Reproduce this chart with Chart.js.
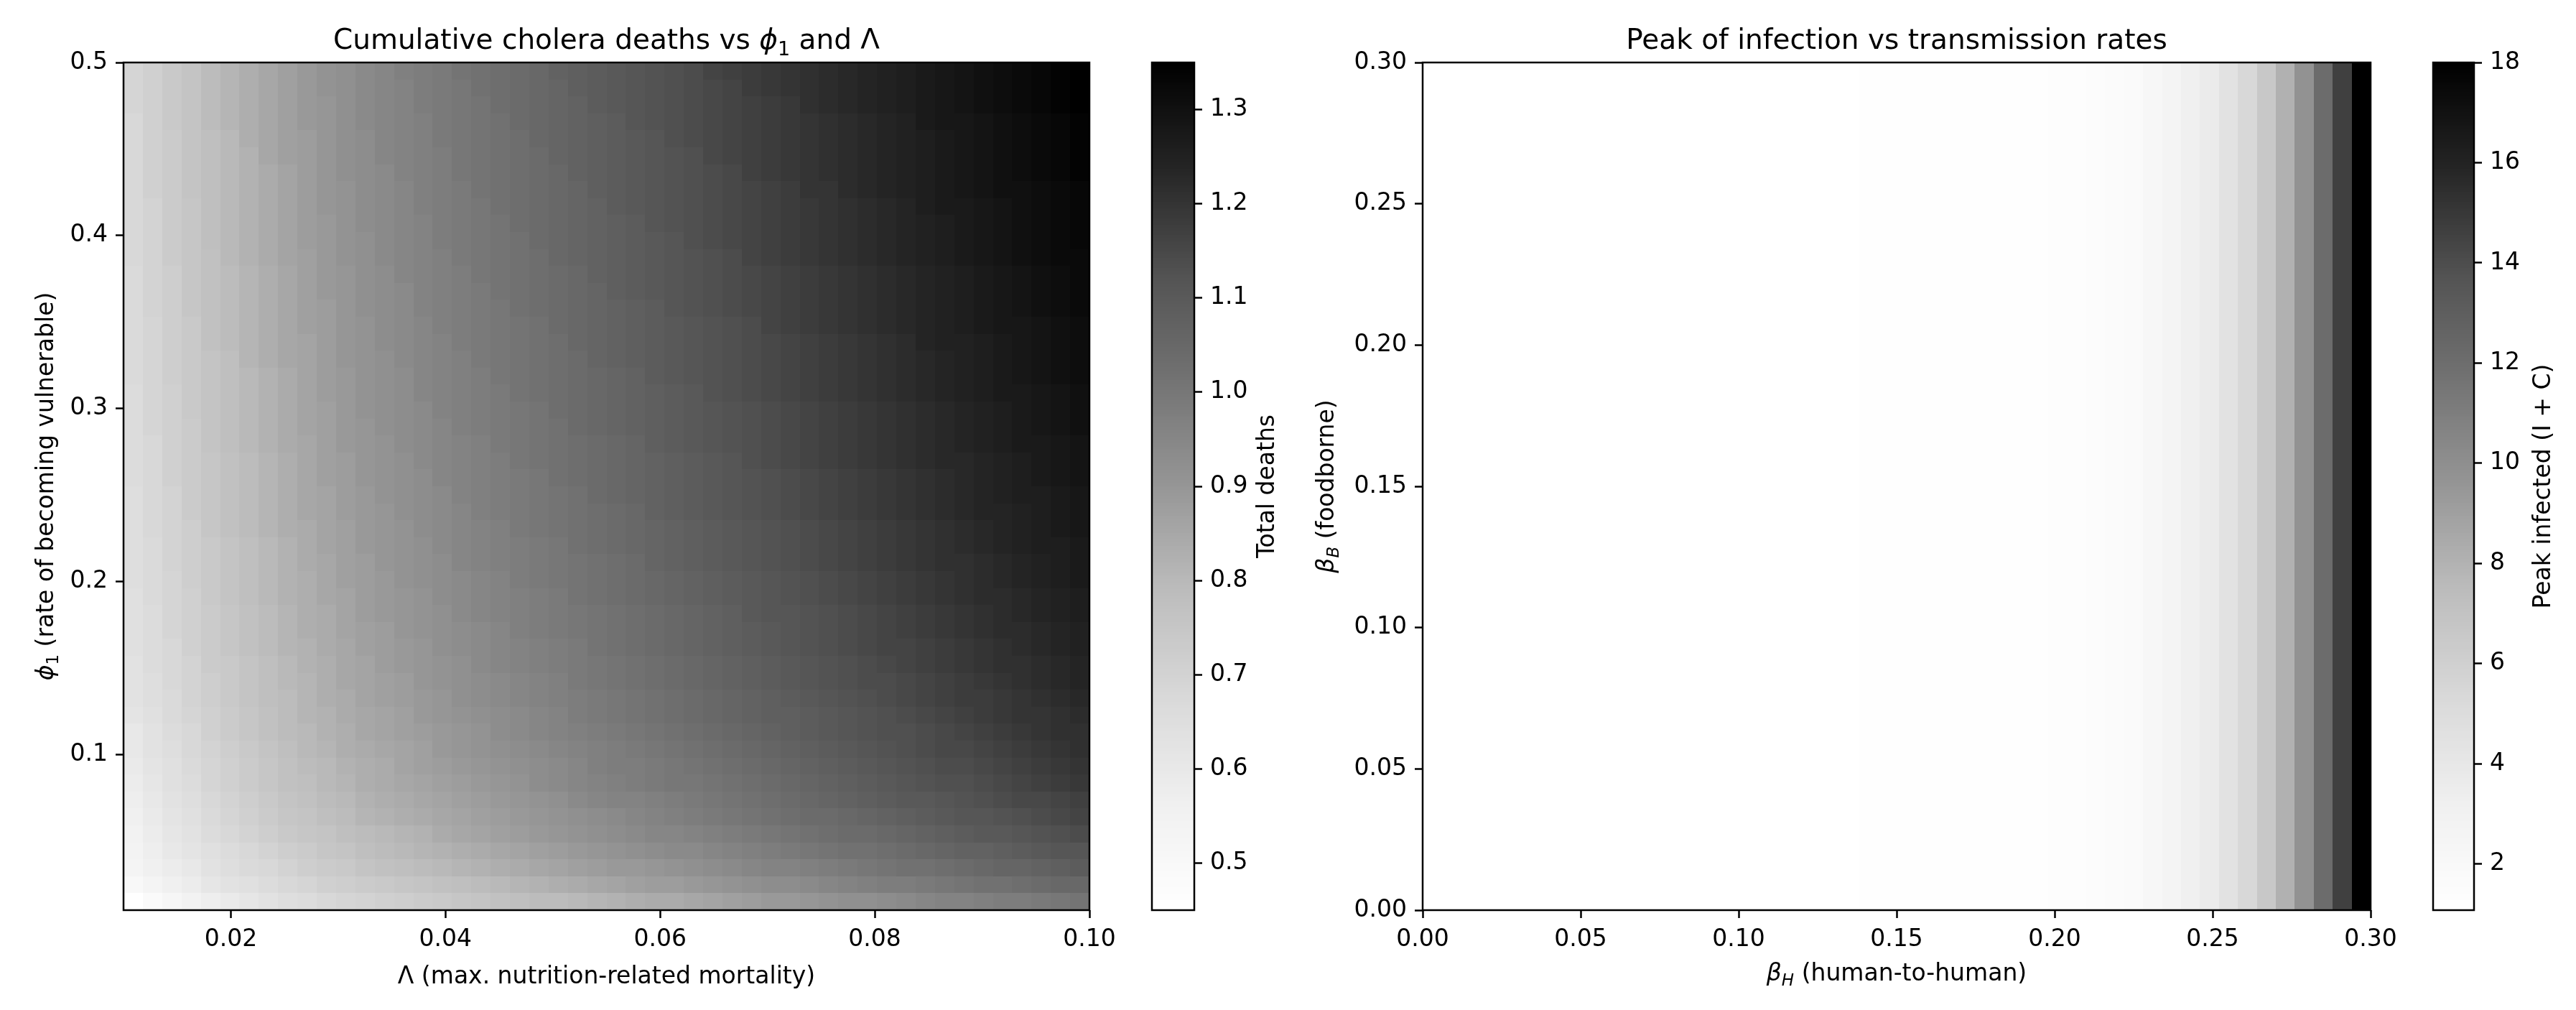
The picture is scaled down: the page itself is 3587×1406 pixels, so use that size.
<!DOCTYPE html>
<html>
<head>
<meta charset="utf-8">
<script src="https://cdn.jsdelivr.net/npm/chart.js@4.4.0/dist/chart.umd.min.js"></script>
<style>
  html, body { margin: 0; padding: 0; background: #fff; width: 3587px; height: 1406px; overflow: hidden; }
  .box { position: absolute; top: 0; height: 1406px; }
</style>
</head>
<body>
<div class="box" style="left:0;width:1560px"><canvas id="deaths"></canvas></div>
<div class="box" style="left:1590px;width:300px"><canvas id="deathsBar"></canvas></div>
<div class="box" style="left:1800px;width:1540px"><canvas id="peak"></canvas></div>
<div class="box" style="left:3370px;width:217px"><canvas id="peakBar"></canvas></div>
<script>
Chart.defaults.font.family = "'DejaVu Sans', sans-serif";
Chart.defaults.font.size = 33;
Chart.defaults.color = '#000';
Chart.defaults.animation = false;

var labelSize = 33, titleSize = 39;

// left panel: cumulative deaths, rows = phi1 (low -> high), columns = Lambda (low -> high)
var lambdaRange = [0.01, 0.10];
var phiRange = [0.01, 0.5];
var lambdaTicks = [0.02, 0.04, 0.06, 0.08, 0.10];
var phiTicks = [0.1, 0.2, 0.3, 0.4, 0.5];
var deathTicks = [0.5, 0.6, 0.7, 0.8, 0.9, 1.0, 1.1, 1.2, 1.3];
var deaths = [
  [.45,.49,.52,.55,.57,.59,.61,.63,.65,.66, .68,.69,.70,.71,.72,.73,.74,.75,.76,.77, .78,.79,.79,.80,.81,.82,.83,.84,.84,.85, .86,.87,.88,.89,.89,.90,.91,.92,.92,.93, .94,.95,.96,.96,.97,.98,.98,.99,1.00,1.01],
  [.50,.53,.56,.58,.61,.63,.64,.66,.68,.69, .71,.72,.73,.74,.75,.76,.77,.78,.79,.80, .81,.82,.83,.84,.85,.86,.87,.88,.88,.89, .90,.91,.92,.93,.93,.94,.95,.96,.97,.98, .98,.99,1.00,1.01,1.02,1.02,1.03,1.04,1.05,1.05],
  [.53,.56,.58,.60,.63,.65,.67,.68,.70,.72, .73,.74,.76,.77,.78,.79,.80,.81,.82,.83, .84,.85,.86,.87,.88,.89,.89,.90,.91,.92, .93,.94,.95,.96,.96,.97,.98,.99,1.00,1.01, 1.02,1.02,1.03,1.04,1.05,1.06,1.06,1.07,1.08,1.09],
  [.54,.57,.60,.62,.64,.66,.68,.70,.72,.73, .75,.76,.78,.79,.80,.81,.82,.83,.84,.85, .86,.87,.88,.89,.90,.91,.92,.93,.94,.94, .95,.96,.97,.98,.99,1.00,1.01,1.02,1.02,1.03, 1.04,1.05,1.06,1.07,1.07,1.08,1.09,1.10,1.11,1.11],
  [.55,.58,.61,.63,.66,.68,.70,.72,.74,.75, .76,.78,.79,.80,.81,.82,.84,.85,.86,.87, .88,.89,.90,.91,.92,.93,.94,.95,.95,.96, .97,.98,.99,1.00,1.01,1.02,1.03,1.04,1.04,1.05, 1.06,1.07,1.08,1.09,1.10,1.10,1.11,1.12,1.13,1.14],
  [.56,.59,.62,.64,.67,.69,.71,.73,.75,.76, .78,.79,.81,.82,.83,.84,.85,.86,.87,.88, .89,.90,.91,.92,.93,.94,.95,.96,.97,.98, .99,1.00,1.01,1.02,1.03,1.04,1.04,1.05,1.06,1.07, 1.08,1.09,1.10,1.11,1.11,1.12,1.13,1.14,1.15,1.16],
  [.57,.60,.63,.65,.68,.70,.72,.74,.76,.77, .79,.80,.82,.83,.84,.85,.86,.87,.88,.89, .90,.91,.92,.94,.95,.96,.96,.97,.98,.99, 1.00,1.01,1.02,1.03,1.04,1.05,1.06,1.07,1.08,1.09, 1.10,1.10,1.11,1.12,1.13,1.14,1.15,1.15,1.16,1.17],
  [.58,.61,.64,.66,.69,.71,.73,.75,.77,.78, .80,.81,.83,.84,.85,.86,.87,.88,.89,.90, .91,.93,.94,.95,.96,.97,.98,.99,1.00,1.00, 1.01,1.02,1.03,1.04,1.05,1.06,1.07,1.08,1.09,1.10, 1.11,1.12,1.13,1.13,1.14,1.15,1.16,1.17,1.18,1.19],
  [.59,.62,.64,.67,.69,.71,.73,.75,.77,.79, .80,.82,.83,.84,.86,.87,.88,.89,.90,.91, .92,.93,.94,.95,.97,.98,.98,.99,1.00,1.01, 1.02,1.03,1.04,1.05,1.06,1.07,1.08,1.09,1.10,1.11, 1.12,1.13,1.14,1.14,1.15,1.16,1.17,1.18,1.19,1.20],
  [.60,.63,.65,.68,.70,.72,.74,.76,.78,.80, .81,.83,.84,.85,.86,.87,.89,.90,.91,.92, .93,.94,.95,.96,.97,.98,.99,1.00,1.01,1.02, 1.03,1.04,1.05,1.06,1.07,1.08,1.09,1.10,1.11,1.12, 1.13,1.14,1.15,1.15,1.16,1.17,1.18,1.19,1.20,1.21],
  [.60,.63,.66,.68,.71,.73,.75,.77,.79,.80, .82,.83,.85,.86,.87,.88,.89,.90,.91,.93, .94,.95,.96,.97,.98,.99,1.00,1.01,1.02,1.03, 1.04,1.05,1.06,1.07,1.08,1.09,1.10,1.11,1.12,1.13, 1.13,1.14,1.15,1.16,1.17,1.18,1.19,1.20,1.21,1.21],
  [.62,.64,.67,.69,.71,.73,.75,.77,.79,.81, .82,.84,.85,.86,.87,.89,.90,.91,.92,.93, .94,.95,.96,.98,.99,1.00,1.01,1.02,1.03,1.04, 1.05,1.06,1.07,1.08,1.08,1.09,1.10,1.11,1.12,1.13, 1.14,1.15,1.16,1.17,1.18,1.19,1.20,1.20,1.21,1.22],
  [.63,.65,.67,.70,.72,.74,.76,.78,.79,.81, .83,.84,.86,.87,.88,.89,.90,.92,.93,.94, .95,.96,.97,.98,.99,1.00,1.01,1.02,1.03,1.04, 1.05,1.06,1.07,1.08,1.09,1.10,1.11,1.12,1.13,1.14, 1.15,1.16,1.17,1.18,1.18,1.19,1.20,1.21,1.22,1.23],
  [.63,.65,.68,.70,.72,.74,.76,.78,.80,.81, .83,.85,.86,.87,.88,.90,.91,.92,.93,.94, .95,.96,.97,.99,1.00,1.01,1.02,1.03,1.04,1.05, 1.06,1.07,1.08,1.09,1.10,1.11,1.12,1.13,1.14,1.14, 1.15,1.16,1.17,1.18,1.19,1.20,1.21,1.22,1.23,1.24],
  [.63,.66,.68,.70,.73,.74,.76,.78,.80,.82, .83,.85,.86,.88,.89,.90,.91,.92,.94,.95, .96,.97,.98,.99,1.00,1.01,1.02,1.03,1.04,1.05, 1.06,1.07,1.08,1.09,1.10,1.11,1.12,1.13,1.14,1.15, 1.16,1.17,1.18,1.19,1.20,1.21,1.21,1.22,1.23,1.24],
  [.64,.66,.68,.71,.73,.75,.77,.79,.81,.82, .84,.85,.87,.88,.89,.90,.92,.93,.94,.95, .96,.97,.98,.99,1.01,1.02,1.03,1.04,1.05,1.06, 1.07,1.08,1.09,1.10,1.11,1.12,1.13,1.14,1.15,1.16, 1.16,1.17,1.18,1.19,1.20,1.21,1.22,1.23,1.24,1.25],
  [.64,.66,.69,.71,.73,.75,.77,.79,.81,.83, .84,.86,.87,.88,.90,.91,.92,.93,.94,.95, .97,.98,.99,1.00,1.01,1.02,1.03,1.04,1.05,1.06, 1.07,1.08,1.09,1.10,1.11,1.12,1.13,1.14,1.15,1.16, 1.17,1.18,1.19,1.20,1.21,1.22,1.22,1.23,1.24,1.25],
  [.64,.66,.69,.71,.73,.75,.77,.79,.81,.83, .84,.86,.88,.89,.90,.91,.92,.94,.95,.96, .97,.98,.99,1.00,1.01,1.02,1.03,1.04,1.05,1.06, 1.07,1.08,1.10,1.11,1.11,1.12,1.13,1.14,1.15,1.16, 1.17,1.18,1.19,1.20,1.21,1.22,1.23,1.24,1.25,1.26],
  [.64,.67,.69,.71,.74,.76,.78,.80,.82,.83, .85,.86,.88,.89,.90,.91,.93,.94,.95,.96, .97,.98,.99,1.01,1.02,1.03,1.04,1.05,1.06,1.07, 1.08,1.09,1.10,1.11,1.12,1.13,1.14,1.15,1.16,1.17, 1.18,1.19,1.20,1.21,1.22,1.22,1.23,1.24,1.25,1.26],
  [.65,.67,.69,.72,.74,.76,.78,.80,.82,.83, .85,.87,.88,.89,.91,.92,.93,.94,.95,.96, .98,.99,1.00,1.01,1.02,1.03,1.04,1.05,1.06,1.07, 1.08,1.09,1.10,1.11,1.12,1.13,1.14,1.15,1.16,1.17, 1.18,1.19,1.20,1.21,1.22,1.23,1.24,1.25,1.26,1.27],
  [.65,.67,.70,.72,.74,.76,.78,.80,.82,.84, .85,.87,.88,.90,.91,.92,.93,.95,.96,.97, .98,.99,1.00,1.01,1.02,1.03,1.04,1.06,1.07,1.08, 1.09,1.10,1.11,1.12,1.13,1.14,1.15,1.16,1.17,1.18, 1.19,1.20,1.21,1.21,1.22,1.23,1.24,1.25,1.26,1.27],
  [.65,.67,.70,.72,.74,.76,.78,.80,.82,.84, .86,.87,.89,.90,.91,.92,.94,.95,.96,.97, .98,.99,1.00,1.02,1.03,1.04,1.05,1.06,1.07,1.08, 1.09,1.10,1.11,1.12,1.13,1.14,1.15,1.16,1.17,1.18, 1.19,1.20,1.21,1.22,1.23,1.24,1.25,1.26,1.26,1.27],
  [.65,.68,.70,.72,.75,.77,.79,.81,.83,.84, .86,.87,.89,.90,.91,.93,.94,.95,.96,.97, .99,1.00,1.01,1.02,1.03,1.04,1.05,1.06,1.07,1.08, 1.09,1.10,1.11,1.12,1.13,1.14,1.15,1.16,1.17,1.18, 1.19,1.20,1.21,1.22,1.23,1.24,1.25,1.26,1.27,1.28],
  [.65,.68,.70,.73,.75,.77,.79,.81,.83,.85, .86,.88,.89,.90,.92,.93,.94,.95,.97,.98, .99,1.00,1.01,1.02,1.03,1.04,1.05,1.07,1.08,1.09, 1.10,1.11,1.12,1.13,1.14,1.15,1.16,1.17,1.18,1.19, 1.20,1.21,1.22,1.23,1.24,1.24,1.25,1.26,1.27,1.28],
  [.65,.68,.70,.73,.75,.77,.79,.81,.83,.85, .86,.88,.89,.91,.92,.93,.94,.96,.97,.98, .99,1.00,1.01,1.02,1.04,1.05,1.06,1.07,1.08,1.09, 1.10,1.11,1.12,1.13,1.14,1.15,1.16,1.17,1.18,1.19, 1.20,1.21,1.22,1.23,1.24,1.25,1.26,1.26,1.27,1.28],
  [.66,.68,.71,.73,.75,.77,.79,.81,.83,.85, .87,.88,.90,.91,.92,.93,.95,.96,.97,.98, .99,1.00,1.02,1.03,1.04,1.05,1.06,1.07,1.08,1.09, 1.10,1.11,1.12,1.13,1.14,1.15,1.16,1.17,1.18,1.19, 1.20,1.21,1.22,1.23,1.24,1.25,1.26,1.27,1.28,1.29],
  [.66,.68,.71,.73,.75,.77,.79,.81,.83,.85, .87,.88,.90,.91,.92,.94,.95,.96,.97,.98, 1.00,1.01,1.02,1.03,1.04,1.05,1.06,1.07,1.08,1.09, 1.10,1.11,1.13,1.14,1.15,1.16,1.17,1.18,1.19,1.20, 1.21,1.22,1.23,1.23,1.24,1.25,1.26,1.27,1.28,1.29],
  [.66,.68,.71,.73,.76,.78,.80,.82,.84,.85, .87,.89,.90,.91,.93,.94,.95,.96,.97,.99, 1.00,1.01,1.02,1.03,1.04,1.05,1.06,1.08,1.09,1.10, 1.11,1.12,1.13,1.14,1.15,1.16,1.17,1.18,1.19,1.20, 1.21,1.22,1.23,1.24,1.25,1.26,1.27,1.27,1.28,1.29],
  [.66,.69,.71,.73,.76,.78,.80,.82,.84,.86, .87,.89,.90,.92,.93,.94,.95,.97,.98,.99, 1.00,1.01,1.02,1.04,1.05,1.06,1.07,1.08,1.09,1.10, 1.11,1.12,1.13,1.14,1.15,1.16,1.17,1.18,1.19,1.20, 1.21,1.22,1.23,1.24,1.25,1.26,1.27,1.28,1.29,1.30],
  [.66,.69,.71,.74,.76,.78,.80,.82,.84,.86, .87,.89,.91,.92,.93,.94,.96,.97,.98,.99, 1.00,1.01,1.03,1.04,1.05,1.06,1.07,1.08,1.09,1.10, 1.11,1.12,1.13,1.14,1.15,1.16,1.17,1.18,1.19,1.20, 1.21,1.22,1.23,1.24,1.25,1.26,1.27,1.28,1.29,1.30],
  [.66,.69,.71,.74,.76,.78,.80,.82,.84,.86, .88,.89,.91,.92,.93,.95,.96,.97,.98,.99, 1.01,1.02,1.03,1.04,1.05,1.06,1.07,1.08,1.09,1.10, 1.12,1.13,1.14,1.15,1.16,1.17,1.18,1.19,1.20,1.21, 1.22,1.23,1.24,1.25,1.26,1.27,1.27,1.28,1.29,1.30],
  [.67,.69,.72,.74,.76,.78,.80,.82,.84,.86, .88,.89,.91,.92,.93,.95,.96,.97,.98,1.00, 1.01,1.02,1.03,1.04,1.05,1.06,1.07,1.09,1.10,1.11, 1.12,1.13,1.14,1.15,1.16,1.17,1.18,1.19,1.20,1.21, 1.22,1.23,1.24,1.25,1.26,1.27,1.28,1.29,1.30,1.31],
  [.67,.69,.72,.74,.76,.78,.81,.83,.85,.86, .88,.90,.91,.92,.94,.95,.96,.97,.99,1.00, 1.01,1.02,1.03,1.04,1.06,1.07,1.08,1.09,1.10,1.11, 1.12,1.13,1.14,1.15,1.16,1.17,1.18,1.19,1.20,1.21, 1.22,1.23,1.24,1.25,1.26,1.27,1.28,1.29,1.30,1.31],
  [.67,.69,.72,.74,.77,.79,.81,.83,.85,.86, .88,.90,.91,.93,.94,.95,.96,.98,.99,1.00, 1.01,1.02,1.03,1.05,1.06,1.07,1.08,1.09,1.10,1.11, 1.12,1.13,1.14,1.15,1.16,1.17,1.18,1.19,1.20,1.21, 1.22,1.24,1.25,1.25,1.26,1.27,1.28,1.29,1.30,1.31],
  [.67,.69,.72,.74,.77,.79,.81,.83,.85,.87, .88,.90,.91,.93,.94,.95,.97,.98,.99,1.00, 1.01,1.02,1.04,1.05,1.06,1.07,1.08,1.09,1.10,1.11, 1.12,1.13,1.14,1.16,1.17,1.18,1.19,1.20,1.21,1.22, 1.23,1.24,1.25,1.26,1.27,1.28,1.28,1.29,1.30,1.31],
  [.67,.70,.72,.75,.77,.79,.81,.83,.85,.87, .88,.90,.92,.93,.94,.96,.97,.98,.99,1.00, 1.02,1.03,1.04,1.05,1.06,1.07,1.08,1.09,1.11,1.12, 1.13,1.14,1.15,1.16,1.17,1.18,1.19,1.20,1.21,1.22, 1.23,1.24,1.25,1.26,1.27,1.28,1.29,1.30,1.31,1.32],
  [.67,.70,.72,.75,.77,.79,.81,.83,.85,.87, .89,.90,.92,.93,.94,.96,.97,.98,.99,1.01, 1.02,1.03,1.04,1.05,1.06,1.08,1.09,1.10,1.11,1.12, 1.13,1.14,1.15,1.16,1.17,1.18,1.19,1.20,1.21,1.22, 1.23,1.24,1.25,1.26,1.27,1.28,1.29,1.30,1.31,1.32],
  [.67,.70,.72,.75,.77,.79,.81,.83,.85,.87, .89,.90,.92,.93,.95,.96,.97,.98,1.00,1.01, 1.02,1.03,1.04,1.05,1.07,1.08,1.09,1.10,1.11,1.12, 1.13,1.14,1.15,1.16,1.17,1.18,1.19,1.20,1.21,1.22, 1.23,1.24,1.25,1.26,1.27,1.28,1.29,1.30,1.31,1.32],
  [.68,.70,.73,.75,.77,.80,.82,.84,.86,.87, .89,.91,.92,.94,.95,.96,.97,.99,1.00,1.01, 1.02,1.03,1.05,1.06,1.07,1.08,1.09,1.10,1.11,1.12, 1.13,1.14,1.16,1.17,1.18,1.19,1.20,1.21,1.22,1.23, 1.24,1.25,1.26,1.27,1.28,1.29,1.30,1.31,1.32,1.32],
  [.68,.70,.73,.75,.78,.80,.82,.84,.86,.88, .89,.91,.92,.94,.95,.96,.98,.99,1.00,1.01, 1.02,1.04,1.05,1.06,1.07,1.08,1.09,1.10,1.11,1.13, 1.14,1.15,1.16,1.17,1.18,1.19,1.20,1.21,1.22,1.23, 1.24,1.25,1.26,1.27,1.28,1.29,1.30,1.31,1.32,1.33],
  [.68,.70,.73,.75,.78,.80,.82,.84,.86,.88, .89,.91,.93,.94,.95,.96,.98,.99,1.00,1.01, 1.03,1.04,1.05,1.06,1.07,1.08,1.09,1.11,1.12,1.13, 1.14,1.15,1.16,1.17,1.18,1.19,1.20,1.21,1.22,1.23, 1.24,1.25,1.26,1.27,1.28,1.29,1.30,1.31,1.32,1.33],
  [.68,.70,.73,.75,.78,.80,.82,.84,.86,.88, .90,.91,.93,.94,.95,.97,.98,.99,1.00,1.02, 1.03,1.04,1.05,1.06,1.07,1.09,1.10,1.11,1.12,1.13, 1.14,1.15,1.16,1.17,1.18,1.19,1.20,1.21,1.22,1.23, 1.24,1.26,1.27,1.27,1.28,1.29,1.30,1.31,1.32,1.33],
  [.68,.71,.73,.76,.78,.80,.82,.84,.86,.88, .90,.91,.93,.94,.95,.97,.98,.99,1.01,1.02, 1.03,1.04,1.05,1.06,1.08,1.09,1.10,1.11,1.12,1.13, 1.14,1.15,1.16,1.17,1.18,1.20,1.20,1.22,1.23,1.24, 1.25,1.26,1.27,1.28,1.29,1.30,1.30,1.31,1.32,1.33],
  [.68,.71,.73,.76,.78,.80,.82,.84,.86,.88, .90,.92,.93,.94,.96,.97,.98,1.00,1.01,1.02, 1.03,1.04,1.05,1.07,1.08,1.09,1.10,1.11,1.12,1.13, 1.14,1.15,1.17,1.18,1.19,1.20,1.21,1.22,1.23,1.24, 1.25,1.26,1.27,1.28,1.29,1.30,1.31,1.32,1.33,1.34],
  [.68,.71,.73,.76,.78,.80,.82,.85,.87,.88, .90,.92,.93,.95,.96,.97,.98,1.00,1.01,1.02, 1.03,1.04,1.06,1.07,1.08,1.09,1.10,1.11,1.12,1.13, 1.15,1.16,1.17,1.18,1.19,1.20,1.21,1.22,1.23,1.24, 1.25,1.26,1.27,1.28,1.29,1.30,1.31,1.32,1.33,1.34],
  [.68,.71,.73,.76,.78,.80,.83,.85,.87,.88, .90,.92,.93,.95,.96,.97,.99,1.00,1.01,1.02, 1.03,1.05,1.06,1.07,1.08,1.09,1.10,1.11,1.13,1.14, 1.15,1.16,1.17,1.18,1.19,1.20,1.21,1.22,1.23,1.24, 1.25,1.26,1.27,1.28,1.29,1.30,1.31,1.32,1.33,1.34],
  [.68,.71,.74,.76,.79,.81,.83,.85,.87,.89, .90,.92,.94,.95,.96,.97,.99,1.00,1.01,1.02, 1.04,1.05,1.06,1.07,1.08,1.09,1.11,1.12,1.13,1.14, 1.15,1.16,1.17,1.18,1.19,1.20,1.21,1.22,1.23,1.24, 1.25,1.27,1.28,1.28,1.29,1.30,1.31,1.32,1.33,1.34],
  [.69,.71,.74,.76,.79,.81,.83,.85,.87,.89, .90,.92,.94,.95,.96,.98,.99,1.00,1.01,1.03, 1.04,1.05,1.06,1.07,1.09,1.10,1.11,1.12,1.13,1.14, 1.15,1.16,1.17,1.18,1.19,1.21,1.22,1.23,1.24,1.25, 1.26,1.27,1.28,1.29,1.30,1.31,1.32,1.33,1.34,1.35],
  [.69,.71,.74,.76,.79,.81,.83,.85,.87,.89, .91,.92,.94,.95,.96,.98,.99,1.00,1.02,1.03, 1.04,1.05,1.06,1.08,1.09,1.10,1.11,1.12,1.13,1.14, 1.15,1.16,1.18,1.19,1.20,1.21,1.22,1.23,1.24,1.25, 1.26,1.27,1.28,1.29,1.30,1.31,1.32,1.33,1.34,1.35],
  [.69,.71,.74,.76,.79,.81,.83,.85,.87,.89, .91,.92,.94,.95,.97,.98,.99,1.01,1.02,1.03, 1.04,1.05,1.07,1.08,1.09,1.10,1.11,1.12,1.13,1.14, 1.16,1.17,1.18,1.19,1.20,1.21,1.22,1.23,1.24,1.25, 1.26,1.27,1.28,1.29,1.30,1.31,1.32,1.33,1.34,1.35]
];

// right panel: peak infected, one value per beta_H column; every beta_B row looks the same
var betaRange = [0, 0.3];
var betaTicks = [0, 0.05, 0.10, 0.15, 0.20, 0.25, 0.30];
var peakTicks = [2, 4, 6, 8, 10, 12, 14, 16, 18];
var peakByBetaH = [
  1.08, 1.08, 1.08, 1.09, 1.09, 1.09, 1.09, 1.10, 1.10, 1.10,
  1.10, 1.11, 1.11, 1.11, 1.12, 1.12, 1.12, 1.13, 1.13, 1.14,
  1.14, 1.15, 1.15, 1.16, 1.17, 1.17, 1.18, 1.19, 1.20, 1.21,
  1.22, 1.24, 1.27, 1.31, 1.36, 1.45, 1.60, 1.85, 2.20, 2.60,
  3.20, 3.70, 4.50, 5.40, 6.60, 8.10, 9.80, 12.1, 14.6, 18.0
];
var betaBRows = 50;

// matplotlib "Greys" colormap stops
var greySteps = [255, 240, 217, 189, 150, 115, 82, 37, 0];
function greyColor(t) {
    t = Math.min(1, Math.max(0, t));
    var p = t * 8, i = Math.min(7, Math.floor(p)), f = p - i;
    var g = Math.round(greySteps[i] + (greySteps[i + 1] - greySteps[i]) * f);
    return 'rgb(' + g + ',' + g + ',' + g + ')';
}

function cells(matrix, xr, yr) {
    var pts = [];
    var ny = matrix.length;
    matrix.forEach(function (row, r) {
        var nx = row.length;
        row.forEach(function (v, c) {
            var x0 = xr[0] + (xr[1] - xr[0]) * c / nx, x1 = xr[0] + (xr[1] - xr[0]) * (c + 1) / nx;
            var y0 = yr[0] + (yr[1] - yr[0]) * r / ny, y1 = yr[0] + (yr[1] - yr[0]) * (r + 1) / ny;
            pts.push({ x: (x0 + x1) / 2, y: (y0 + y1) / 2, x0: x0, x1: x1, y0: y0, y1: y1, v: v });
        });
    });
    return pts;
}

function drawRich(ctx, parts, x, y, angle, size) {
    ctx.save();
    ctx.translate(x, y);
    ctx.rotate(angle);
    ctx.textAlign = 'left';
    ctx.textBaseline = 'alphabetic';
    ctx.fillStyle = '#000';
    var fontOf = function (p) {
        return (p.it ? 'italic ' : '') + (p.sub ? Math.round(size * 0.7) : size) + "px 'DejaVu Sans'";
    };
    var total = 0, widths = [];
    parts.forEach(function (p) { ctx.font = fontOf(p); var w = ctx.measureText(p.t).width; widths.push(w); total += w; });
    var cx = -total / 2;
    parts.forEach(function (p, i) {
        ctx.font = fontOf(p);
        ctx.fillText(p.t, cx, size * 0.36 + (p.sub ? size * 0.22 : 0));
        cx += widths[i];
    });
    ctx.restore();
}

var heatmapCells = {
    id: 'heatmapCells',
    beforeDatasetsDraw: function (chart, args, opts) {
        var ctx = chart.ctx, xs = chart.scales.x, ys = chart.scales.y;
        ctx.save();
        chart.data.datasets[0].data.forEach(function (p) {
            var x0 = Math.round(xs.getPixelForValue(p.x0)), x1 = Math.round(xs.getPixelForValue(p.x1));
            var y0 = Math.round(ys.getPixelForValue(p.y0)), y1 = Math.round(ys.getPixelForValue(p.y1));
            ctx.fillStyle = greyColor((p.v - opts.vmin) / (opts.vmax - opts.vmin));
            ctx.fillRect(Math.min(x0, x1), Math.min(y0, y1), Math.abs(x1 - x0), Math.abs(y1 - y0));
        });
        ctx.restore();
    }
};

var colorBar = {
    id: 'colorBar',
    beforeDatasetsDraw: function (chart) {
        var ctx = chart.ctx, ys = chart.scales.y, a = chart.chartArea;
        for (var i = 0; i < 256; i++) {
            var y0 = Math.round(ys.getPixelForValue(ys.min + (ys.max - ys.min) * i / 256));
            var y1 = Math.round(ys.getPixelForValue(ys.min + (ys.max - ys.min) * (i + 1) / 256));
            ctx.fillStyle = greyColor((i + 0.5) / 256);
            ctx.fillRect(a.left, y1, a.right - a.left, y0 - y1);
        }
    }
};

// frame round the plot area plus the titles (some need sub-scripts)
function frameAndText(spec) {
    return {
        id: 'frameAndText',
        afterDraw: function (chart) {
            var ctx = chart.ctx, a = chart.chartArea;
            var cx = (a.left + a.right) / 2, cy = (a.top + a.bottom) / 2;
            ctx.save();
            ctx.strokeStyle = '#000';
            ctx.lineWidth = 2.5;
            ctx.strokeRect(a.left, a.top, a.right - a.left, a.bottom - a.top);
            ctx.restore();
            if (spec.title) drawRich(ctx, spec.title, cx, a.top - 33, 0, titleSize);
            if (spec.xTitle) drawRich(ctx, spec.xTitle, cx, a.bottom + spec.xGap, 0, labelSize);
            if (spec.yTitle) drawRich(ctx, spec.yTitle, a.left - spec.yGap, cy, -Math.PI / 2, labelSize);
            if (spec.barLabel) drawRich(ctx, spec.barLabel, a.right + spec.barGap, cy, -Math.PI / 2, labelSize);
        }
    };
}

function axis(min, max, ticks, digits, size, horizontal, position) {
    return {
        type: 'linear',
        position: position,
        min: min,
        max: max,
        afterBuildTicks: function (s) { s.ticks = ticks.map(function (v) { return { value: v }; }); },
        afterFit: function (s) {
            // fixed box size; layout padding alone decides where the plot area ends
            if (horizontal) { s.height = size; s.paddingLeft = 0; s.paddingRight = 0; }
            else { s.width = size; s.paddingTop = 0; s.paddingBottom = 0; }
        },
        ticks: { autoSkip: false, maxRotation: 0, padding: 11, callback: function (v) { return v.toFixed(digits); } },
        grid: { display: true, drawOnChartArea: false, drawTicks: true, tickLength: 11, tickWidth: 2.5, tickColor: '#000' },
        border: { display: false }
    };
}

function hidden() {
    return { display: false };
}

var deathVals = [].concat.apply([], deaths);
var deathMin = Math.min.apply(null, deathVals), deathMax = Math.max.apply(null, deathVals);
var peakMin = Math.min.apply(null, peakByBetaH), peakMax = Math.max.apply(null, peakByBetaH);
var peakMatrix = [];
for (var r = 0; r < betaBRows; r++) peakMatrix.push(peakByBetaH);

new Chart(document.getElementById('deaths'), {
    type: 'scatter',
    data: { datasets: [{ data: cells(deaths, lambdaRange, phiRange), pointRadius: 0 }] },
    options: {
        responsive: true,
        maintainAspectRatio: false,
        layout: { padding: { left: 0, top: 87, right: 43, bottom: 0 } },
        plugins: {
            legend: { display: false },
            tooltip: { enabled: false },
            heatmapCells: { vmin: deathMin, vmax: deathMax }
        },
        scales: {
            x: axis(lambdaRange[0], lambdaRange[1], lambdaTicks, 2, 139, true, 'bottom'),
            y: axis(phiRange[0], phiRange[1], phiTicks, 1, 172, false, 'left')
        }
    },
    plugins: [heatmapCells, frameAndText({
        title: [{ t: 'Cumulative cholera deaths vs ' }, { t: 'ϕ', it: 1 }, { t: '1', sub: 1 }, { t: ' and Λ' }],
        xTitle: [{ t: 'Λ (max. nutrition-related mortality)' }], xGap: 90,
        yTitle: [{ t: 'ϕ', it: 1 }, { t: '1', sub: 1 }, { t: ' (rate of becoming vulnerable)' }], yGap: 110
    })]
});

new Chart(document.getElementById('deathsBar'), {
    type: 'scatter',
    data: { datasets: [{ data: [], pointRadius: 0 }] },
    options: {
        responsive: true,
        maintainAspectRatio: false,
        layout: { padding: { left: 14, top: 87, right: 0, bottom: 139 } },
        plugins: { legend: { display: false }, tooltip: { enabled: false } },
        scales: {
            x: hidden(),
            y: axis(deathMin, deathMax, deathTicks, 1, 227, false, 'right')
        }
    },
    plugins: [colorBar, frameAndText({ barLabel: [{ t: 'Total deaths' }], barGap: 99 })]
});

new Chart(document.getElementById('peak'), {
    type: 'scatter',
    data: { datasets: [{ data: cells(peakMatrix, betaRange, betaRange), pointRadius: 0 }] },
    options: {
        responsive: true,
        maintainAspectRatio: false,
        layout: { padding: { left: 0, top: 87, right: 39, bottom: 0 } },
        plugins: {
            legend: { display: false },
            tooltip: { enabled: false },
            heatmapCells: { vmin: peakMin, vmax: peakMax }
        },
        scales: {
            x: axis(betaRange[0], betaRange[1], betaTicks, 2, 139, true, 'bottom'),
            y: axis(betaRange[0], betaRange[1], betaTicks, 2, 181, false, 'left')
        }
    },
    plugins: [heatmapCells, frameAndText({
        title: [{ t: 'Peak of infection vs transmission rates' }],
        xTitle: [{ t: 'β', it: 1 }, { t: 'H', it: 1, sub: 1 }, { t: ' (human-to-human)' }], xGap: 86,
        yTitle: [{ t: 'β', it: 1 }, { t: 'B', it: 1, sub: 1 }, { t: ' (foodborne)' }], yGap: 136
    })]
});

new Chart(document.getElementById('peakBar'), {
    type: 'scatter',
    data: { datasets: [{ data: [], pointRadius: 0 }] },
    options: {
        responsive: true,
        maintainAspectRatio: false,
        layout: { padding: { left: 18, top: 87, right: 0, bottom: 139 } },
        plugins: { legend: { display: false }, tooltip: { enabled: false } },
        scales: {
            x: hidden(),
            y: axis(peakMin, peakMax, peakTicks, 0, 142, false, 'right')
        }
    },
    plugins: [colorBar, frameAndText({ barLabel: [{ t: 'Peak infected (I + C)' }], barGap: 94 })]
});
</script>
</body>
</html>
